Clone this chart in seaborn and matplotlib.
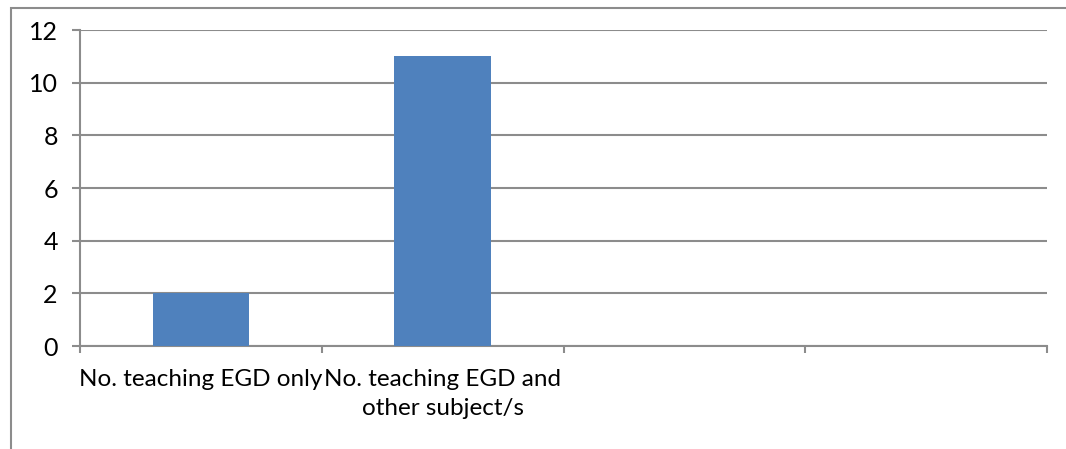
import matplotlib
matplotlib.use("Agg")
import matplotlib.pyplot as plt
from matplotlib.patches import Rectangle
import seaborn as sns
import numpy as np

# Chart data
categories = ["No. teaching EGD only", "No. teaching EGD and\nother subject/s", "", " "]
counts = [2, 11, np.nan, np.nan]
y_ticks = [0, 2, 4, 6, 8, 10, 12]

sns.set_style("white")
plt.rcParams["font.family"] = ["Lato", "DejaVu Sans"]

W, H = 1066, 449
fig = plt.figure(figsize=(W / 100, H / 100), dpi=100)
ax = fig.add_axes([80 / W, (H - 346) / H, (1047 - 80) / W, (346 - 30) / H])

grey = "#8c8c8c"
bar_color = "#4f81bd"
fs = 17.5

sns.barplot(x=categories, y=counts, order=categories, color=bar_color,
            width=0.4, saturation=1, linewidth=0, ax=ax, zorder=3)

ax.set_xlim(-0.5, len(categories) - 0.5)
ax.set_ylim(0, 12)
ax.set_yticks(y_ticks)
ax.set_yticklabels([str(v) for v in y_ticks], fontsize=18, color="black")
ax.yaxis.grid(True, color=grey, linewidth=1.5, zorder=0)
ax.set_axisbelow(True)

# Category boundaries carry the tick marks; labels sit centred on the slots
ax.set_xticks(np.arange(-0.5, len(categories), 1.0))
ax.set_xticklabels([])
ax.set_xticks(np.arange(len(categories)), minor=True)
ax.set_xticklabels(categories, minor=True, fontsize=fs, linespacing=1.5,
                   va="top", color="black")
ax.tick_params(axis="x", which="major", direction="out", length=5,
               width=1.5, color=grey, bottom=True)
ax.tick_params(axis="x", which="minor", length=0, pad=16.5)
ax.tick_params(axis="y", direction="out", length=6, width=1.5, color=grey,
               left=True, pad=10)

for side in ["top", "right"]:
    ax.spines[side].set_visible(False)
for side in ["left", "bottom"]:
    ax.spines[side].set_color(grey)
    ax.spines[side].set_linewidth(1.5)
ax.set_xlabel("")
ax.set_ylabel("")

# Chart area border
fig.patches.append(Rectangle((11 / W, -0.1), 1.2, (H - 8) / H + 0.1,
                             transform=fig.transFigure, fill=False,
                             edgecolor=grey, linewidth=1.5))

fig.savefig("out.png", dpi=100)
